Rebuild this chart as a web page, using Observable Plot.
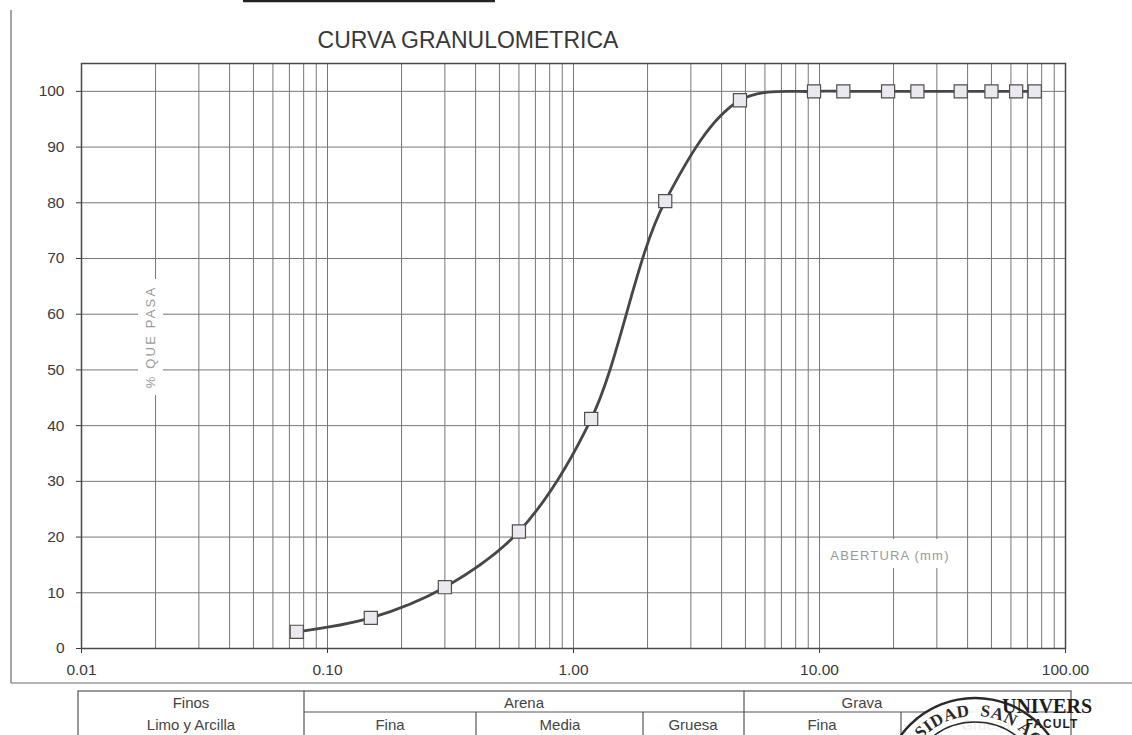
<!DOCTYPE html>
<html><head><meta charset="utf-8">
<script src="https://cdn.jsdelivr.net/npm/d3@7"></script>
<script src="https://cdn.jsdelivr.net/npm/@observablehq/plot@0.6"></script>
<style>
html,body{margin:0;padding:0;background:#fff;}
#chart svg{display:block;}
</style>
</head><body><div id="chart"></div>
<script>
// ---- data ----
const sieveSizes = [0.075, 0.15, 0.30, 0.60, 1.18, 2.36, 4.75, 9.5, 12.5, 19, 25, 37.5, 50, 63, 75];
const percentPassing = [3.0, 5.5, 11.0, 21.0, 41.2, 80.3, 98.4, 100, 100, 100, 100, 100, 100, 100, 100];
const xTickValues = [0.01, 0.1, 1, 10, 100];
const yTickValues = [0, 10, 20, 30, 40, 50, 60, 70, 80, 90, 100];
const titleText = "CURVA GRANULOMETRICA";
const yLabelText = "% QUE PASA";
const xLabelText = "ABERTURA (mm)";
const tableTopLabels = ["Finos", "Arena", "Grava"];
const tableBottomLabels = ["Limo y Arcilla", "Fina", "Media", "Gruesa", "Fina", "Gruesa"];
const stampText = ["UNIVERSIDAD", "SAN AGUSTIN"];
const stampSide = ["UNIVERS", "FACULT"];

const rows = sieveSizes.map((s, i) => ({size: s, pass: percentPassing[i]}));
// log grid lines (1..9 per decade)
const gridX = [];
for (const dec of [0.01, 0.1, 1, 10]) for (let k = 1; k <= 9; k++) gridX.push(+(dec * k).toPrecision(3));
gridX.push(100);

const ff = "'Liberation Sans', Arial, sans-serif";
const svg = Plot.plot({
  width: 1132, height: 735,
  marginLeft: 81, marginRight: 67, marginTop: 63, marginBottom: 87,
  style: {fontFamily: ff, fontSize: "15.5px", color: "#3a3a3a", background: "#fff", overflow: "visible"},
  x: {type: "log", domain: [0.01, 100], ticks: xTickValues, tickFormat: d3.format(".2f"), tickSize: 5, tickPadding: 10, label: null},
  y: {domain: [0, 105], ticks: yTickValues, tickSize: 5, tickPadding: 12, label: null},
  marks: [
    Plot.ruleX(gridX, {stroke: "#767676", strokeWidth: 1}),
    Plot.ruleY(yTickValues.filter(v => v > 0), {stroke: "#767676", strokeWidth: 1}),
    Plot.frame({stroke: "#4a4a4a", strokeWidth: 1.5}),
    Plot.line(rows, {x: "size", y: "pass", curve: "catmull-rom", stroke: "#474747", strokeWidth: 2.8}),
    Plot.dot(rows, {x: "size", y: "pass", symbol: "square", r: 7.4, fill: "#ece8f0", stroke: "#4f4f4f", strokeWidth: 1.2})
  ]
});
document.getElementById("chart").appendChild(svg);

const s = d3.select(svg);

// chart-area borders and header stub
s.append("line").attr("x1", 11).attr("y1", 10).attr("x2", 11).attr("y2", 683).attr("stroke", "#6a6a6a").attr("stroke-width", 1.2);
s.append("line").attr("x1", 11).attr("y1", 683).attr("x2", 1132).attr("y2", 683).attr("stroke", "#6a6a6a").attr("stroke-width", 1.2);
s.append("line").attr("x1", 243).attr("y1", 1).attr("x2", 495).attr("y2", 1).attr("stroke", "#222").attr("stroke-width", 2.5);

// title
s.append("text").attr("x", 468).attr("y", 48).attr("text-anchor", "middle")
  .attr("font-family", ff).attr("font-size", 23).attr("fill", "#383838").text(titleText);

// y label with white box
const yl = s.append("g").attr("transform", "translate(150,337) rotate(-90)");
yl.append("rect").attr("x", -58).attr("y", -12).attr("width", 116).attr("height", 25).attr("fill", "#fff");
yl.append("text").attr("text-anchor", "middle").attr("dy", "0.35em").attr("font-family", ff)
  .attr("font-size", 13).attr("letter-spacing", 2.2).attr("fill", "#9a9a9a").text(yLabelText);

// x label with white box
s.append("rect").attr("x", 822).attr("y", 539).attr("width", 138).attr("height", 29).attr("fill", "#fff");
s.append("text").attr("x", 890).attr("y", 560).attr("text-anchor", "middle").attr("font-family", ff)
  .attr("font-size", 13).attr("letter-spacing", 1.2).attr("fill", "#9a9a9a").text(xLabelText);

// classification table
const tb = s.append("g").attr("stroke", "#555").attr("stroke-width", 1.2).attr("fill", "none");
tb.append("rect").attr("x", 78).attr("y", 691).attr("width", 993).attr("height", 60);
tb.append("line").attr("x1", 304).attr("y1", 712).attr("x2", 1071).attr("y2", 712);
for (const x of [304, 744]) tb.append("line").attr("x1", x).attr("y1", 691).attr("x2", x).attr("y2", 740);
for (const x of [476, 643, 901]) tb.append("line").attr("x1", x).attr("y1", 712).attr("x2", x).attr("y2", 740);
const topX = [191, 524, 862];
tableTopLabels.forEach((t, i) => s.append("text").attr("x", topX[i]).attr("y", 708).attr("text-anchor", "middle")
  .attr("font-family", ff).attr("font-size", 15).attr("fill", "#444").text(t));
const botX = [191, 390, 560, 693, 822, 986];
tableBottomLabels.forEach((t, i) => s.append("text").attr("x", botX[i]).attr("y", 730).attr("text-anchor", "middle")
  .attr("font-family", ff).attr("font-size", 15).attr("fill", "#444").text(t));

// stamp
const cx = 975, cy = 790;
const st = s.append("g");
st.append("circle").attr("cx", cx).attr("cy", cy).attr("r", 92).attr("fill", "#fff").attr("fill-opacity", 0.9)
  .attr("stroke", "#2a2a2a").attr("stroke-width", 2.5);
st.append("circle").attr("cx", cx).attr("cy", cy).attr("r", 68).attr("fill", "none").attr("stroke", "#2a2a2a").attr("stroke-width", 1.5);
const rText = 74;
s.append("defs").append("path").attr("id", "stampArc")
  .attr("d", `M${cx - rText},${cy} A${rText},${rText} 0 1 1 ${cx + rText},${cy} A${rText},${rText} 0 1 1 ${cx - rText},${cy}`);
const qOff = Math.PI * rText / 2;
const t1 = st.append("text").attr("font-family", "'Liberation Serif', 'Times New Roman', serif").attr("font-weight", "bold")
  .attr("font-size", 17).attr("fill", "#2a2a2a").attr("letter-spacing", 0.5);
t1.append("textPath").attr("href", "#stampArc").attr("startOffset", qOff - 5).attr("text-anchor", "end").text(stampText[0]);
const t2 = st.append("text").attr("font-family", "'Liberation Serif', 'Times New Roman', serif").attr("font-weight", "bold")
  .attr("font-size", 17).attr("fill", "#2a2a2a").attr("letter-spacing", 0.5);
t2.append("textPath").attr("href", "#stampArc").attr("startOffset", qOff + 5).attr("text-anchor", "start").text(stampText[1]);

s.append("text").attr("x", 1047).attr("y", 713).attr("font-family", "'Liberation Serif', 'Times New Roman', serif")
  .attr("font-weight", "bold").attr("font-size", 20).attr("fill", "#1e1e1e").text(stampSide[0]);
s.append("text").attr("x", 1052).attr("y", 728).attr("font-family", ff)
  .attr("font-weight", "bold").attr("font-size", 12).attr("letter-spacing", 1).attr("fill", "#1e1e1e").text(stampSide[1]);
</script>
</body></html>
